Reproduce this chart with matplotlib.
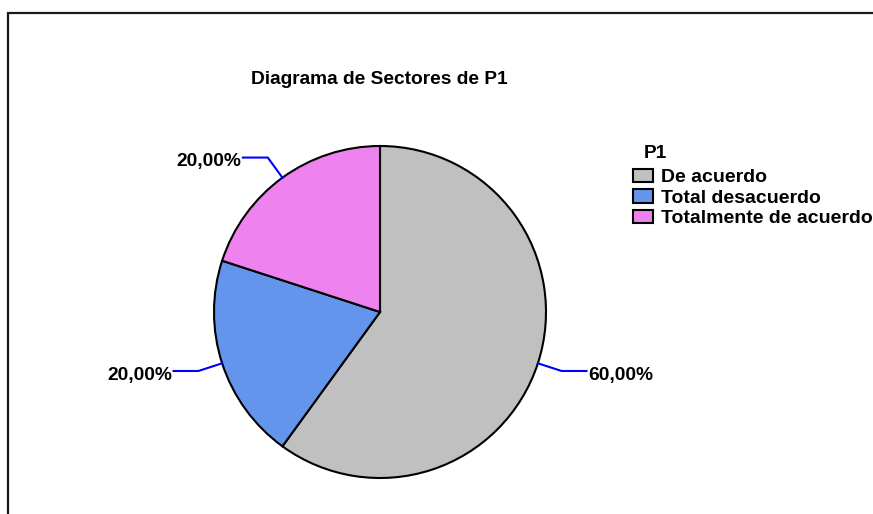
import numpy as np
import matplotlib
matplotlib.use("Agg")
import matplotlib.pyplot as plt
from matplotlib.patches import Rectangle

# datos
categorias = ["De acuerdo", "Total desacuerdo", "Totalmente de acuerdo"]
porcentajes = [60.0, 20.0, 20.0]
colores = ["#C0C0C0", "#6495ED", "#EE82EE"]
titulo = "Diagrama de Sectores de P1"
titulo_leyenda = "P1"

W, H = 873, 514
plt.rcParams['font.family'] = ['Liberation Sans', 'DejaVu Sans']
plt.rcParams['font.weight'] = 'bold'
FS = 13.8

fig = plt.figure(figsize=(W / 100, H / 100), dpi=100)
fig.patch.set_facecolor("white")

# marco exterior (sale por la derecha y por abajo)
fig.patches.append(Rectangle((8 / W, -0.2), 2.0, 1.2 - 13 / H, transform=fig.transFigure,
                             fill=False, edgecolor="#1a1a1a", linewidth=1.6))

# eje del pastel: centro (380, 312) px, radio 166 px
cx, cy, r = 380, 312, 166
ax = fig.add_axes([(cx - r) / W, (H - cy - r) / H, 2 * r / W, 2 * r / H])
wedges, _ = ax.pie(porcentajes, colors=colores, startangle=90, counterclock=False,
                   radius=1.0, wedgeprops=dict(edgecolor="black", linewidth=1.5))
ax.set_xlim(-1, 1)
ax.set_ylim(-1, 1)
ax.set_aspect("equal")
ax.axis("off")

# etiquetas con lineas guia
for w, p in zip(wedges, porcentajes):
    ang = np.deg2rad((w.theta1 + w.theta2) / 2)
    x0, y0 = np.cos(ang), np.sin(ang)
    x1, y1 = 1.15 * x0, 1.15 * y0
    lado = 1 if x0 >= 0 else -1
    x2 = x1 + lado * 0.15
    ax.plot([x0, x1, x2], [y0, y1, y1], color="#0000FF", linewidth=1.5, clip_on=False)
    txt = f"{p:.2f}%".replace(".", ",")
    ax.text(x2 + lado * 0.01, y1 - 0.025, txt, ha="left" if lado > 0 else "right",
            va="center", fontsize=FS, fontweight="bold", color="black")

fig.text(379 / W, 1 - 79 / H, titulo, ha="center", va="center", fontsize=FS, fontweight="bold")

fig.text(644 / W, 1 - 153 / H, titulo_leyenda, ha="left", va="center", fontsize=FS, fontweight="bold")
leg = fig.legend(wedges, categorias, loc="upper left", bbox_to_anchor=(633 / W, 1 - 169 / H),
                 frameon=False, fontsize=14, borderpad=0, borderaxespad=0,
                 handlelength=1.05, handleheight=0.68, handletextpad=0.4, labelspacing=0.15)
for t in leg.get_texts():
    t.set_fontweight("bold")

fig.savefig("out.png", dpi=100)
